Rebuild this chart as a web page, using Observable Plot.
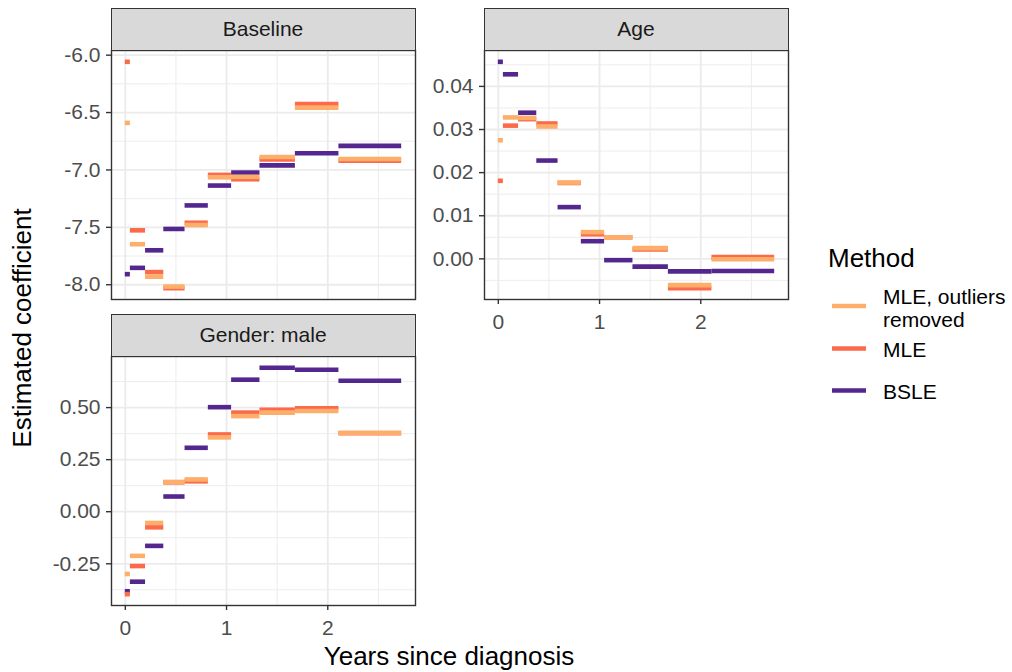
<!DOCTYPE html>
<html><head><meta charset="utf-8">
<script src="https://cdn.jsdelivr.net/npm/d3@7"></script>
<script src="https://cdn.jsdelivr.net/npm/@observablehq/plot@0.6"></script>
<style>
body{margin:0;background:#fff;font-family:"Liberation Sans",Arial,Helvetica,sans-serif;}
#root{position:relative;width:1012px;height:672px;overflow:hidden;background:#fff;}
#root > svg{position:absolute;}
.strip{position:absolute;box-sizing:border-box;background:#D9D9D9;border:1.4px solid #333;font-size:21px;color:#1A1A1A;display:flex;align-items:center;justify-content:center;}
</style></head><body><div id="root"></div>
<script>
// ---- data ----
const intervalStart = [0, 0.05, 0.2, 0.38, 0.59, 0.82, 1.05, 1.33, 1.68, 2.11];
const intervalEnd   = [0.05, 0.2, 0.38, 0.59, 0.82, 1.05, 1.33, 1.68, 2.11, 2.73];
const methods = ["MLE, outliers removed", "MLE", "BSLE"];
const methodColors = ["#FDAE6B", "#FB6A4A", "#54278F"];
const panelNames = ["Baseline", "Age", "Gender: male"];

const baselineOutl = [-6.59, -7.647, -7.93, -8.016, -7.48, -7.064, -7.06, -6.887, -6.457, -6.905];
const baselineMLE  = [-6.058, -7.526, -7.89, -8.03, -7.46, -7.043, -7.081, -6.908, -6.425, -6.92];
const baselineBSLE = [-7.908, -7.853, -7.70, -7.514, -7.309, -7.136, -7.023, -6.96, -6.855, -6.79];

const ageOutl = [0.0275, 0.0328, 0.0327, 0.0307, 0.0177, 0.0062, 0.0050, 0.0025, -0.0061, -0.0001];
const ageMLE  = [0.0181, 0.0309, 0.0324, 0.0314, 0.0176, 0.0057, 0.0050, 0.0022, -0.0068, 0.0004];
const ageBSLE = [0.0457, 0.0428, 0.0339, 0.0228, 0.0120, 0.0041, -0.0003, -0.0018, -0.0029, -0.0028];

const genderOutl = [-0.299, -0.212, -0.054, 0.143, 0.155, 0.357, 0.459, 0.476, 0.484, 0.379];
const genderMLE  = [-0.396, -0.261, -0.075, 0.141, 0.146, 0.371, 0.476, 0.490, 0.497, 0.377];
const genderBSLE = [-0.382, -0.336, -0.164, 0.073, 0.307, 0.502, 0.634, 0.691, 0.682, 0.629];

const xTicks = [0, 1, 2];
const xMinor = [0.5, 1.5, 2.5];
const baselineTicks = [-8.0, -7.5, -7.0, -6.5, -6.0];
const baselineMinor = [-7.75, -7.25, -6.75, -6.25];
const ageTicks = [0, 0.01, 0.02, 0.03, 0.04];
const ageMinor = [-0.005, 0.005, 0.015, 0.025, 0.035, 0.045];
const genderTicks = [-0.25, 0, 0.25, 0.5];
const genderMinor = [-0.375, -0.125, 0.125, 0.375, 0.625];

// ---- layout ----
const root = document.getElementById("root");
const FONT = '"Liberation Sans", Arial, Helvetica, sans-serif';
const PW = 304, PH = 249;

function rowsFor(outl, mle, bsle) {
  const rows = [];
  // draw order: BSLE, MLE, outliers removed on top
  [[bsle, "BSLE"], [mle, "MLE"], [outl, "MLE, outliers removed"]].forEach(([vals, m]) => {
    vals.forEach((v, i) => rows.push({x1: intervalStart[i], x2: intervalEnd[i], y: v, method: m}));
  });
  return rows;
}

function panel({name, rows, yTicks, yMinor, digits, plotLeft, plotTop, mLeft, showX}) {
  const [lo, hi] = d3.extent(rows, d => d.y);
  const pad = (hi - lo) * 0.05;
  const x0 = d3.min(intervalStart), x1 = d3.max(intervalEnd);
  const xpad = (x1 - x0) * 0.05;
  const mTop = 2, mRight = 3, mBottom = showX ? 40 : 3;
  const chart = Plot.plot({
    width: mLeft + PW + mRight,
    height: mTop + PH + mBottom,
    marginLeft: mLeft, marginRight: mRight, marginTop: mTop, marginBottom: mBottom,
    x: {domain: [x0 - xpad, x1 + xpad], axis: null},
    y: {domain: [lo - pad, hi + pad], axis: null},
    color: {domain: methods, range: methodColors},
    style: {fontFamily: FONT, fontSize: "21px", background: "transparent", overflow: "visible"},
    marks: [
      Plot.ruleX(xMinor, {stroke: "#EBEBEB", strokeWidth: 0.9, clip: true}),
      Plot.ruleY(yMinor, {stroke: "#EBEBEB", strokeWidth: 0.9, clip: true}),
      Plot.ruleX(xTicks, {stroke: "#EBEBEB", strokeWidth: 1.8, clip: true}),
      Plot.ruleY(yTicks, {stroke: "#EBEBEB", strokeWidth: 1.8, clip: true}),
      Plot.ruleY(rows, {x1: "x1", x2: "x2", y: "y", stroke: "method", strokeWidth: 4.6}),
      Plot.frame({stroke: "#333333", strokeWidth: 1.4}),
      Plot.axisY(yTicks, {tickSize: 5, tickPadding: 6, tickFormat: d => d.toFixed(digits),
        stroke: "#333333", strokeWidth: 1.4, fill: "#4D4D4D", fontSize: 21, label: null}),
      showX ? Plot.axisX(xTicks, {tickSize: 5, tickPadding: 10, tickFormat: d => String(d),
        stroke: "#333333", strokeWidth: 1.4, fill: "#4D4D4D", fontSize: 21, label: null}) : null
    ]
  });
  chart.style.left = (plotLeft - mLeft) + "px";
  chart.style.top = (plotTop - mTop) + "px";
  root.appendChild(chart);
  const strip = document.createElement("div");
  strip.className = "strip";
  strip.style.left = (plotLeft - 0.5) + "px";
  strip.style.top = (plotTop - 42) + "px";
  strip.style.width = (PW + 1) + "px";
  strip.style.height = "42.5px";
  strip.textContent = name;
  root.appendChild(strip);
}

panel({name: panelNames[0], rows: rowsFor(baselineOutl, baselineMLE, baselineBSLE),
  yTicks: baselineTicks, yMinor: baselineMinor, digits: 1, plotLeft: 111, plotTop: 50, mLeft: 111, showX: false});
panel({name: panelNames[1], rows: rowsFor(ageOutl, ageMLE, ageBSLE),
  yTicks: ageTicks, yMinor: ageMinor, digits: 2, plotLeft: 484, plotTop: 50, mLeft: 80, showX: true});
panel({name: panelNames[2], rows: rowsFor(genderOutl, genderMLE, genderBSLE),
  yTicks: genderTicks, yMinor: genderMinor, digits: 2, plotLeft: 111, plotTop: 356, mLeft: 111, showX: true});

// ---- titles and legend ----
const over = d3.select(root).append("svg")
  .attr("width", 1012).attr("height", 672)
  .style("left", "0px").style("top", "0px").style("pointer-events", "none")
  .style("font-family", FONT);
over.append("text").attr("x", 449).attr("y", 665).attr("text-anchor", "middle")
  .attr("font-size", 26).attr("fill", "#000").text("Years since diagnosis");
over.append("text").attr("transform", "translate(31,328) rotate(-90)").attr("text-anchor", "middle")
  .attr("font-size", 26).attr("fill", "#000").text("Estimated coefficient");

over.append("text").attr("x", 828).attr("y", 267).attr("font-size", 26).attr("fill", "#000").text("Method");
const keyY = [306, 348.5, 390.5];
const labelLines = [["MLE, outliers", "removed"], ["MLE"], ["BSLE"]];
const labelBase = [304, 356.5, 398.5];
methods.forEach((m, i) => {
  over.append("line").attr("x1", 832).attr("x2", 866).attr("y1", keyY[i]).attr("y2", keyY[i])
    .attr("stroke", methodColors[i]).attr("stroke-width", 4.6);
  labelLines[i].forEach((t, j) => {
    over.append("text").attr("x", 883).attr("y", labelBase[i] + j * 22.7)
      .attr("font-size", 21).attr("fill", "#000").text(t);
  });
});
</script></body></html>
